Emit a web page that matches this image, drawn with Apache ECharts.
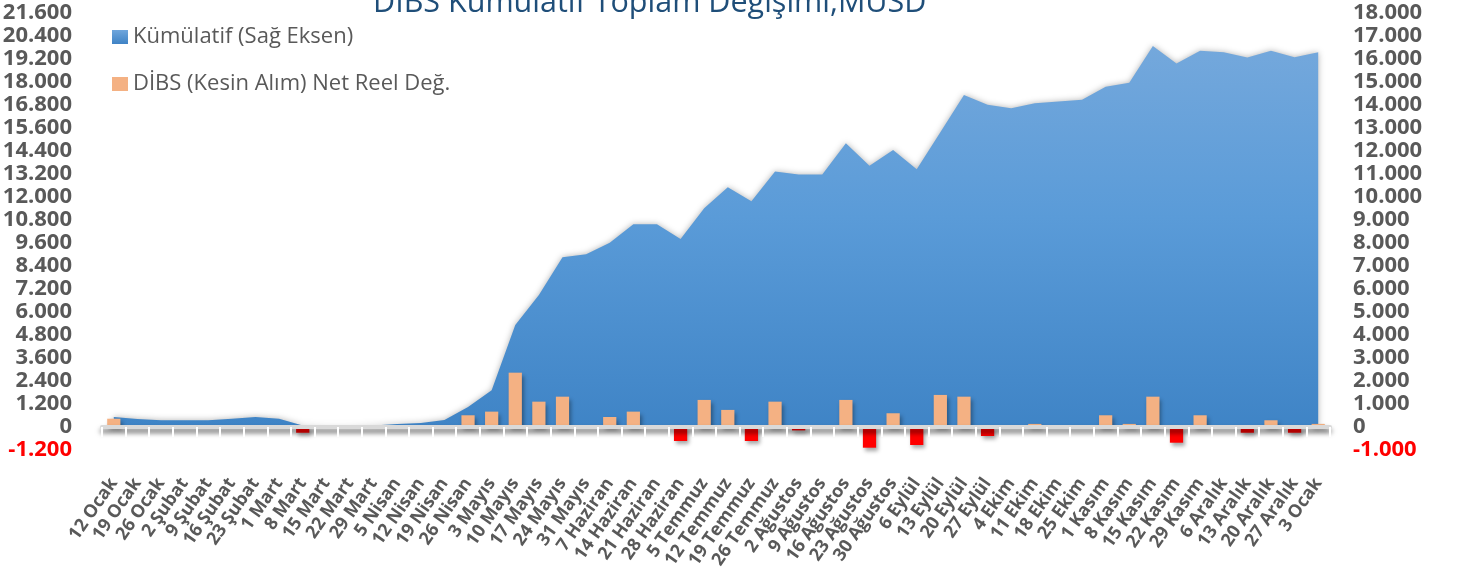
<!DOCTYPE html>
<html>
<head>
<meta charset="utf-8">
<script src="https://cdn.jsdelivr.net/npm/echarts@6/dist/echarts.min.js"></script>
<style>
html,body{margin:0;padding:0;background:#fff;}
#chart{width:1458px;height:569px;}
</style>
</head>
<body>
<div id="chart"></div>
<script>
const categories = ['12 Ocak','19 Ocak','26 Ocak','2 Şubat','9 Şubat','16 Şubat','23 Şubat','1 Mart','8 Mart','15 Mart','22 Mart','29 Mart','5 Nisan','12 Nisan','19 Nisan','26 Nisan','3 Mayıs','10 Mayıs','17 Mayıs','24 Mayıs','31 Mayıs','7 Haziran','14 Haziran','21 Haziran','28 Haziran','5 Temmuz','12 Temmuz','19 Temmuz','26 Temmuz','2 Ağustos','9 Ağustos','16 Ağustos','23 Ağustos','30 Ağustos','6 Eylül','13 Eylül','20 Eylül','27 Eylül','4 Ekim','11 Ekim','18 Ekim','25 Ekim','1 Kasım','8 Kasım','15 Kasım','22 Kasım','29 Kasım','6 Aralık','13 Aralık','20 Aralık','27 Aralık','3 Ocak'];

// Kümülatif (right axis), MUSD
const kumulatif = [430,350,290,290,290,360,430,360,60,30,30,60,130,170,300,870,1600,4430,5730,7370,7500,8000,8800,8800,8160,9500,10410,9800,11090,10970,10970,12320,11350,12030,11190,12800,14420,13990,13840,14060,14140,14210,14780,14950,16550,15790,16340,16270,16050,16340,16060,16270];

// DİBS (Kesin Alım) Net Reel Değ. (left axis), MUSD
const netReel = [430,0,0,0,0,0,0,0,-300,0,0,0,0,0,0,610,800,2830,1320,1580,0,520,800,0,-730,1410,890,-730,1320,-180,0,1410,-1080,715,-940,1670,1580,-470,0,160,0,0,610,160,1580,-820,610,0,-300,350,-300,160];

const leftAxisMin = -1200, leftAxisMax = 21600, leftAxisStep = 1200;
const rightAxisMin = -1000, rightAxisMax = 18000, rightAxisStep = 1000;

const seriesNames = ['Kümülatif (Sağ Eksen)', 'DİBS (Kesin Alım) Net Reel Değ.'];
const titleText = 'DİBS Kümülatif Toplam Değişimi,MUSD';

function fmt(v){
  const s = Math.abs(v).toString().replace(/\B(?=(\d{3})+(?!\d))/g,'.');
  return (v < 0 ? '-' : '') + s;
}
const labelColor = v => (v < 0 ? '#FF0000' : '#595959');
const FONT = '"Open Sans", "Noto Sans", sans-serif';

const chart = echarts.init(document.getElementById('chart'));
chart.setOption({
  animation: false,
  backgroundColor: '#fff',
  title: {
    text: titleText,
    left: 373,
    top: -12,
    padding: 0,
    textStyle: { color: '#1F4E79', fontSize: 30.5, fontWeight: 'normal', fontFamily: FONT }
  },
  legend: {
    orient: 'vertical',
    left: 112,
    top: 24,
    padding: 0,
    itemGap: 21,
    itemWidth: 16,
    itemHeight: 14,
    icon: 'rect',
    textStyle: { color: '#595959', fontSize: 22, lineHeight: 26, fontFamily: FONT },
    data: [
      { name: seriesNames[0], itemStyle: { color: new echarts.graphic.LinearGradient(0,0,0,1,[{offset:0,color:'#6FA6DC'},{offset:1,color:'#3F83C5'}]) } },
      { name: seriesNames[1], itemStyle: { color: '#F4B183' } }
    ]
  },
  grid: { left: 102, right: 128, top: 12.5, bottom: 119, containLabel: false, outerBoundsMode: 'none' },
  xAxis: [
    {
      type: 'category',
      data: categories,
      position: 'bottom',
      axisLine: { show: false, onZero: false },
      axisTick: { show: false },
      axisLabel: {
        interval: 0, rotate: 55, margin: 30,
        color: '#595959', fontSize: 18, fontWeight: 'bold', fontFamily: FONT
      }
    },
    {
      type: 'category',
      data: categories,
      position: 'bottom',
      z: 3,
      axisLine: {
        show: true, onZero: true, onZeroAxisIndex: 0,
        lineStyle: { color: '#D9D9D9', width: 4, shadowColor: 'rgba(0,0,0,0.55)', shadowBlur: 5, shadowOffsetY: 4 }
      },
      axisTick: { show: true, interval: 0, length: 10, lineStyle: { color: '#FFFFFF', width: 2 } },
      axisLabel: { show: false }
    }
  ],
  yAxis: [
    {
      type: 'value',
      min: leftAxisMin, max: leftAxisMax, interval: leftAxisStep,
      position: 'left',
      axisLine: { show: false }, axisTick: { show: false }, splitLine: { show: false },
      axisLabel: { margin: 30, formatter: fmt, color: labelColor, fontSize: 22, fontWeight: 'bold', fontFamily: FONT }
    },
    {
      type: 'value',
      min: rightAxisMin, max: rightAxisMax, interval: rightAxisStep,
      position: 'right',
      axisLine: { show: false }, axisTick: { show: false }, splitLine: { show: false },
      axisLabel: { margin: 23, formatter: fmt, color: labelColor, fontSize: 22, fontWeight: 'bold', fontFamily: FONT }
    }
  ],
  series: [
    {
      name: seriesNames[0],
      type: 'line',
      xAxisIndex: 0,
      yAxisIndex: 1,
      data: kumulatif,
      z: 1,
      symbol: 'none',
      showSymbol: false,
      itemStyle: { color: '#5B9BD5' },
      lineStyle: { width: 0, opacity: 0 },
      areaStyle: {
        origin: 'auto',
        opacity: 1,
        color: new echarts.graphic.LinearGradient(0,0,0,1,[{offset:0,color:'#74A8DC'},{offset:0.45,color:'#5A9BD8'},{offset:1,color:'#3F84C6'}]),
        shadowColor: 'rgba(0,0,0,0.3)', shadowBlur: 6
      }
    },
    {
      name: seriesNames[1],
      type: 'bar',
      xAxisIndex: 0,
      yAxisIndex: 0,
      data: netReel,
      z: 2,
      barWidth: '56%',
      itemStyle: {
        color: p => (p.value < 0 ? '#FF0000' : '#F4B183'),
        shadowColor: 'rgba(0,0,0,0.35)', shadowBlur: 4, shadowOffsetX: 2, shadowOffsetY: 3
      }
    }
  ]
});
</script>
</body>
</html>
